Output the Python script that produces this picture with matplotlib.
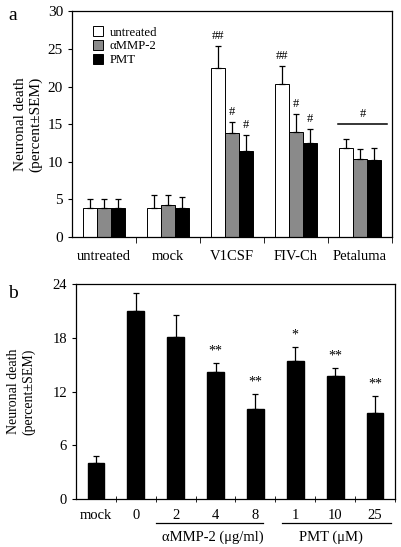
from matplotlib import pyplot as plt
import numpy as np

plt.rcParams["font.family"] = ["Liberation Serif", "DejaVu Serif"]
plt.rcParams["font.size"] = 9.5
plt.rcParams["axes.linewidth"] = 0.9

# panel a data
a_groups = ["untreated", "mock", "V1CSF", "FIV-Ch", "Petaluma"]
untreated_vals = [3.9, 3.8, 22.5, 20.4, 11.9]
untreated_err = [1.1, 1.8, 2.9, 2.4, 1.1]
ammp_vals = [3.9, 4.2, 13.8, 13.9, 10.4]
ammp_err = [1.1, 1.4, 1.5, 2.5, 1.3]
pmt_vals = [3.9, 3.9, 11.4, 12.5, 10.3]
pmt_err = [1.1, 1.45, 2.2, 1.9, 1.6]
untreated_marks = ["", "", "##", "##", ""]
ammp_marks = ["", "", "#", "#", ""]
pmt_marks = ["", "", "#", "#", ""]
petaluma_sig = 15.0

# panel b data
b_labels = ["mock", "0", "2", "4", "8", "1", "10", "25"]
b_vals = [4.1, 21.0, 18.1, 14.15, 10.1, 15.4, 13.75, 9.65]
b_err = [0.7, 2.0, 2.4, 1.0, 1.6, 1.6, 0.9, 1.85]
b_marks = ["", "", "", "**", "**", "*", "**", "**"]

fig = plt.figure(figsize=(4.01, 5.47), dpi=100)
ax1 = fig.add_axes([0.1796, 0.5667, 0.7972, 0.4125])
ax2 = fig.add_axes([0.1895, 0.0872, 0.7955, 0.3936])

# ---- panel a
x = np.arange(len(a_groups))
w = 0.22
series = [
    (untreated_vals, untreated_err, untreated_marks, "white", "untreated"),
    (ammp_vals, ammp_err, ammp_marks, "#8a8a8a", "\u03b1MMP-2"),
    (pmt_vals, pmt_err, pmt_marks, "black", "PMT"),
]
for k, (vals, err, marks, col, lab) in enumerate(series):
    pos = x + (k - 1) * w
    ax1.bar(pos, vals, w, color=col, edgecolor="black", linewidth=0.7, label=lab,
            yerr=[np.zeros(len(err)), err], error_kw=dict(ecolor="black", elinewidth=0.9,
                                                           capsize=2.5, capthick=0.9))
    for p, v, e, m in zip(pos, vals, err, marks):
        if m:
            ax1.text(p, v + e + 0.5, m, ha="center", va="bottom", fontsize=9)

ax1.plot([3.66, 4.43], [petaluma_sig, petaluma_sig], color="black", lw=1.1)
ax1.text(4.05, petaluma_sig + 0.5, "#", ha="center", va="bottom", fontsize=9)

ax1.set_xlim(-0.5, 4.5)
ax1.set_ylim(0, 30)
ax1.set_yticks([0, 5, 10, 15, 20, 25, 30])
ax1.set_xticks(x)
ax1.set_xticklabels(a_groups, fontsize=10.5)
ax1.tick_params(axis="x", length=0, pad=9)
ax1.set_xticks(np.arange(0.5, 4.6, 1), minor=True)
ax1.tick_params(axis="x", which="minor", length=4, direction="out")
ax1.tick_params(axis="y", length=3, direction="out", labelsize=11)
ax1.set_ylabel("Neuronal death\n(percent\u00b1SEM)", fontsize=11, labelpad=4)
ax1.legend(loc="upper left", bbox_to_anchor=(0.03, 0.985), frameon=False,
           handlelength=0.8, handleheight=0.8, handletextpad=0.5,
           labelspacing=0.12, fontsize=9.2)
fig.text(0.02, 0.963, "a", fontsize=14)

# ---- panel b
xb = np.arange(len(b_labels))
ax2.bar(xb, b_vals, 0.42, color="black", edgecolor="black",
        yerr=[np.zeros(len(b_err)), b_err],
        error_kw=dict(ecolor="black", elinewidth=0.9, capsize=2.5, capthick=0.9))
for p, v, e, m in zip(xb, b_vals, b_err, b_marks):
    if m:
        ax2.text(p, v + e + 0.6, m, ha="center", va="bottom", fontsize=10)
ax2.set_xlim(-0.5, 7.5)
ax2.set_ylim(0, 24)
ax2.set_yticks([0, 6, 12, 18, 24])
ax2.set_xticks(xb)
ax2.set_xticklabels(b_labels)
ax2.tick_params(axis="x", length=0, pad=7, labelsize=10.5)
ax2.set_xticks(np.arange(0.5, 7.6, 1), minor=True)
ax2.tick_params(axis="x", which="minor", length=5, direction="inout")
ax2.tick_params(axis="y", length=3, direction="out", labelsize=10.5)
ax2.set_ylabel("Neuronal death\n(percent\u00b1SEM)", fontsize=10, labelpad=12)

tr = ax2.get_xaxis_transform()
ax2.plot([1.5, 4.2], [-0.11, -0.11], color="black", lw=0.9, transform=tr, clip_on=False)
ax2.plot([4.66, 7.39], [-0.11, -0.11], color="black", lw=0.9, transform=tr, clip_on=False)
ax2.text(2.93, -0.175, "\u03b1MMP-2 (\u03bcg/ml)", ha="center", va="center",
         transform=tr, fontsize=10.5)
ax2.text(5.9, -0.175, "PMT (\u03bcM)", ha="center", va="center",
         transform=tr, fontsize=10.5)
fig.text(0.02, 0.455, "b", fontsize=14)

fig.savefig("out.png", dpi=100)
